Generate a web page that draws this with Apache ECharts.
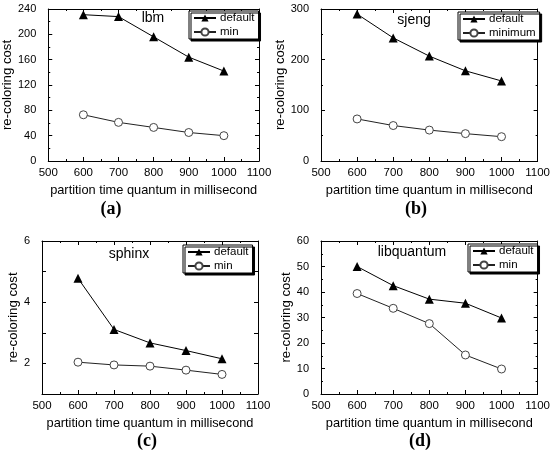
<!DOCTYPE html>
<html><head><meta charset="utf-8">
<script src="https://cdn.jsdelivr.net/npm/echarts@6/dist/echarts.min.js"></script>
<style>html,body{margin:0;padding:0;background:#fff}#c{width:553px;height:454px}</style>
</head><body><div id="c"></div>
<script>
const xValues = [600, 700, 800, 900, 1000];
const lbmDefault = [231, 228, 196, 164, 142];
const lbmMin = [73, 61, 53, 45, 40];
const sjengDefault = [290, 243, 207, 178, 158];
const sjengMin = [83, 70, 61, 54, 48];
const sphinxDefault = [4.78, 3.11, 2.67, 2.42, 2.15];
const sphinxMin = [2.04, 1.95, 1.91, 1.78, 1.64];
const libqDefault = [50, 42.5, 37.2, 35.6, 29.8];
const libqMin = [39.4, 33.6, 27.6, 15.3, 9.8];
const panelTitles = ['lbm', 'sjeng', 'sphinx', 'libquantum'];
const panelLetters = ['(a)', '(b)', '(c)', '(d)'];
const legendNames = [['default', 'min'], ['default', 'minimum'], ['default', 'min'], ['default', 'min']];
const yAxisRanges = [[0, 240, 40], [0, 300, 100], [1, 6, 1], [0, 60, 10]];
const xName = 'partition time quantum in millisecond';
const yName = 're-coloring cost';

const seriesData = [[lbmDefault, lbmMin], [sjengDefault, sjengMin], [sphinxDefault, sphinxMin], [libqDefault, libqMin]];

const FONT = 'Arial, Liberation Sans, sans-serif';
const grids = [
  {left: 42, top: 9, width: 217, height: 152},
  {left: 321, top: 9, width: 219, height: 152},
  {left: 42, top: 241, width: 216, height: 153},
  {left: 321, top: 241, width: 219, height: 153}
];
const yNameGaps = [28, 29, 22, 27];
const legendPos = [[189, 11], [458, 12], [183, 245], [468, 244]];
const titlePos = [[153, 18], [414, 20], [129, 254], [412, 252]];
const letterPos = [[111, 209], [416, 209], [147, 441], [420, 441]];

const chart = echarts.init(document.getElementById('c'), null, {renderer: 'canvas'});
const xAxes = [], yAxes = [], series = [], legends = [], graphics = [];

grids.forEach((g, i) => {
  const [ymin, ymax, yint] = yAxisRanges[i];
  const tickStyle = {show: true, inside: true, length: 4, lineStyle: {color: '#000', width: 1}};
  const minorStyle = {show: true, splitNumber: 2, length: 2, lineStyle: {color: '#000', width: 1}};
  const lineStyle = {show: true, onZero: false, lineStyle: {color: '#000', width: 1}};
  xAxes.push({
    type: 'value', gridIndex: i, position: 'bottom', min: 500, max: 1100, interval: 100,
    axisLine: lineStyle, axisTick: tickStyle, minorTick: minorStyle, splitLine: {show: false},
    axisLabel: {color: '#000', fontSize: 11.5, fontFamily: FONT, margin: 6, formatter: (v) => String(v)},
    name: xName, nameLocation: 'middle', nameGap: 23,
    nameTextStyle: {color: '#000', fontSize: 12.8, fontFamily: FONT}
  });
  xAxes.push({
    type: 'value', gridIndex: i, position: 'top', min: 500, max: 1100, interval: 100,
    axisLine: lineStyle, axisTick: tickStyle, minorTick: minorStyle, splitLine: {show: false},
    axisLabel: {show: false}
  });
  const fmt = (v) => (i === 2 && v % 2 !== 0) ? '' : String(v);
  yAxes.push({
    type: 'value', gridIndex: i, position: 'left', min: ymin, max: ymax, interval: yint,
    axisLine: lineStyle, axisTick: tickStyle, minorTick: i === 2 ? {show: false} : minorStyle, splitLine: {show: false},
    axisLabel: {color: '#000', fontSize: 11, fontFamily: FONT, margin: 12, formatter: fmt},
    name: yName, nameLocation: 'middle', nameGap: yNameGaps[i], nameRotate: 90,
    nameTextStyle: {color: '#000', fontSize: 13.2, fontFamily: FONT}
  });
  yAxes.push({
    type: 'value', gridIndex: i, position: 'right', min: ymin, max: ymax, interval: yint,
    axisLine: lineStyle, axisTick: tickStyle, minorTick: i === 2 ? {show: false} : minorStyle, splitLine: {show: false},
    axisLabel: {show: false}
  });
  const [dDef, dMin] = seriesData[i];
  series.push({
    name: legendNames[i][0], type: 'line', xAxisIndex: 2 * i, yAxisIndex: 2 * i,
    data: xValues.map((x, k) => [x, dDef[k]]),
    symbol: 'triangle', symbolSize: 9, showSymbol: true,
    itemStyle: {color: '#000'}, lineStyle: {color: '#000', width: 1}, animation: false, z: 3
  });
  series.push({
    name: legendNames[i][1], type: 'line', xAxisIndex: 2 * i, yAxisIndex: 2 * i,
    data: xValues.map((x, k) => [x, dMin[k]]),
    symbol: 'circle', symbolSize: 8, showSymbol: true,
    itemStyle: {color: '#fff', borderColor: '#444', borderWidth: 1}, lineStyle: {color: '#222', width: 1}, animation: false, z: 2
  });
  legends.push({
    data: legendNames[i], orient: 'vertical', left: legendPos[i][0], top: legendPos[i][1],
    itemWidth: 22, itemHeight: 9, itemGap: 2, padding: [1, 4, 1, 4],
    borderColor: '#000', borderWidth: 1, backgroundColor: '#fff',
    shadowColor: '#000', shadowBlur: 0, shadowOffsetX: 2, shadowOffsetY: 2,
    selectedMode: false,
    textStyle: {color: '#000', fontSize: 11.5, fontFamily: FONT, padding: [0, 0, 0, -1]}
  });
  graphics.push({
    type: 'text', x: titlePos[i][0], y: titlePos[i][1], z: 10,
    style: {text: panelTitles[i], font: '14px Arial, Liberation Sans, sans-serif', fill: '#000', align: 'center', verticalAlign: 'middle'}
  });
  graphics.push({
    type: 'text', x: letterPos[i][0], y: letterPos[i][1], z: 10,
    style: {text: panelLetters[i], font: 'bold 18px Times New Roman, Liberation Serif, serif', fill: '#000', align: 'center', verticalAlign: 'middle'}
  });
});

chart.setOption({
  animation: false,
  backgroundColor: '#fff',
  grid: grids,
  xAxis: xAxes,
  yAxis: yAxes,
  series: series,
  legend: legends,
  graphic: graphics
});
</script>
</body></html>
